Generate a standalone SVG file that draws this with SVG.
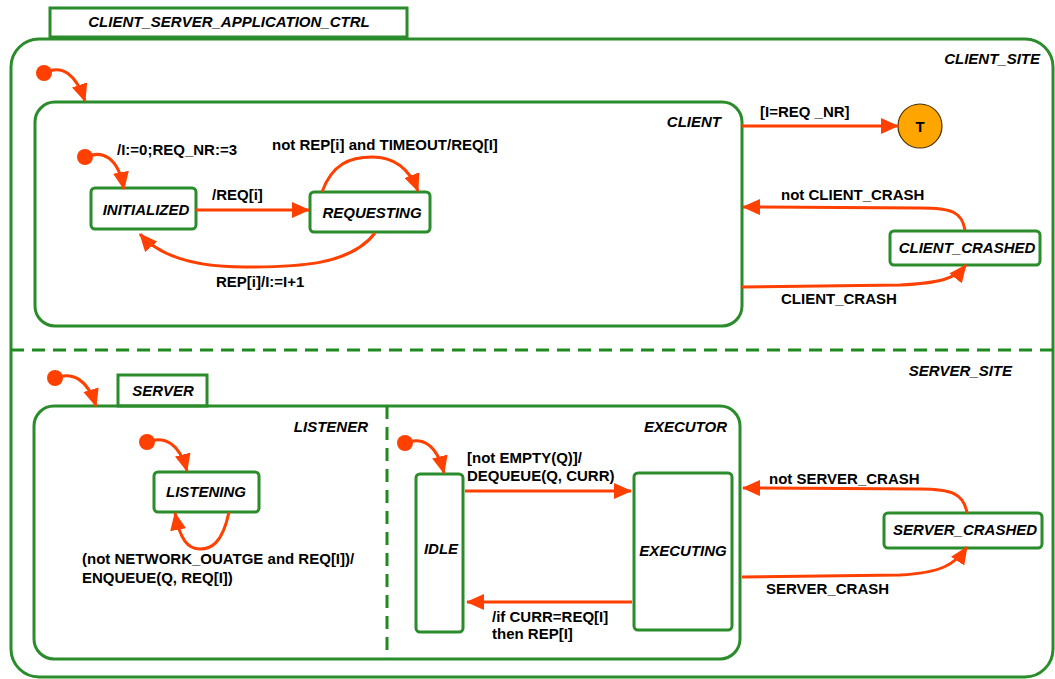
<svg xmlns="http://www.w3.org/2000/svg" width="1055" height="679" viewBox="0 0 1055 679">
  <style>
    .frame { fill: none; stroke: #2a8c2a; stroke-width: 3; }
    .box { fill: #ffffff; stroke: #2a8c2a; stroke-width: 3; }
    .dash { fill: none; stroke: #1f8a1f; stroke-width: 3; stroke-dasharray: 13 8; }
    .tr { fill: none; stroke: #ff4000; stroke-width: 3; marker-end: url(#ah); }
    .dot { fill: #ff4000; }
    text { font-family: "Liberation Sans", Arial, sans-serif; font-size: 15px; font-weight: bold; fill: #000000; }
    .nm { font-style: italic; }
    .mid { text-anchor: middle; }
    .end { text-anchor: end; }
  </style>
  <defs>
    <marker id="ah" viewBox="0 0 18 16" refX="17" refY="8" markerWidth="18" markerHeight="16" orient="auto" markerUnits="userSpaceOnUse">
      <path d="M0,0 L18,8 L0,16 z" fill="#ff4000"/>
    </marker>
  </defs>

  <!-- outer application state with its title tab -->
  <g id="app">
    <rect class="frame" x="11" y="39" width="1042" height="638" rx="28"/>
    <rect class="box" x="50" y="8" width="357" height="29"/>
    <text class="nm mid" x="229" y="27">CLIENT_SERVER_APPLICATION_CTRL</text>
    <line class="dash" x1="11" y1="350" x2="1055" y2="350"/>
    <text class="nm end" x="1040" y="64">CLIENT_SITE</text>
    <text class="nm end" x="1012" y="376">SERVER_SITE</text>
  </g>

  <!-- client site -->
  <g id="client">
    <rect class="frame" x="35" y="102" width="707" height="224" rx="20"/>
    <text class="nm end" x="721" y="127">CLIENT</text>
  </g>
  <g id="initialized">
    <rect class="box" x="91" y="188" width="105" height="41" rx="4"/>
    <text class="nm mid" x="146" y="215">INITIALIZED</text>
  </g>
  <g id="requesting">
    <rect class="box" x="310" y="192" width="120" height="40" rx="4"/>
    <text class="nm mid" x="372" y="218">REQUESTING</text>
  </g>
  <g id="terminal">
    <circle cx="920" cy="126" r="22" fill="#ffa500" stroke="#4a3000" stroke-width="1.2"/>
    <text class="mid" x="920" y="132">T</text>
  </g>
  <g id="client_crashed">
    <rect class="box" x="890" y="231" width="150" height="34" rx="4"/>
    <text class="nm mid" x="967" y="253">CLIENT_CRASHED</text>
  </g>

  <!-- server site -->
  <g id="server">
    <rect class="box" x="118" y="375" width="89" height="31"/>
    <text class="nm mid" x="163" y="396">SERVER</text>
    <rect class="frame" x="34" y="406" width="706" height="253" rx="20"/>
    <line class="dash" x1="387" y1="406" x2="387" y2="659"/>
    <text class="nm end" x="368" y="432">LISTENER</text>
    <text class="nm end" x="727" y="432">EXECUTOR</text>
  </g>
  <g id="listening">
    <rect class="box" x="154" y="472" width="105" height="40" rx="4"/>
    <text class="nm mid" x="206" y="497">LISTENING</text>
  </g>
  <g id="idle">
    <rect class="box" x="416" y="474" width="47" height="158" rx="4"/>
    <text class="nm mid" x="441" y="554">IDLE</text>
  </g>
  <g id="executing">
    <rect class="box" x="634" y="473" width="98" height="157" rx="4"/>
    <text class="nm mid" x="683" y="556">EXECUTING</text>
  </g>
  <g id="server_crashed">
    <rect class="box" x="884" y="513" width="158" height="35" rx="4"/>
    <text class="nm mid" x="965" y="535">SERVER_CRASHED</text>
  </g>

  <!-- transitions -->
  <g id="connectors">
    <circle class="dot" cx="44" cy="73" r="8"/>
    <path class="tr" d="M44,73 C62,64 76,74 85,101"/>

    <circle class="dot" cx="85" cy="157" r="8"/>
    <path class="tr" d="M85,157 C102,150 118,156 124,189"/>
    <text x="117" y="155">/I:=0;REQ_NR:=3</text>

    <path class="tr" d="M196,210 L309,210"/>
    <text x="212" y="200">/REQ[i]</text>

    <path class="tr" d="M322,192 C332,164 350,157 372,157 C395,157 410,170 418,191"/>
    <text x="272" y="150">not REP[i] and TIMEOUT/REQ[I]</text>

    <path class="tr" d="M375,233 C350,266 295,267 245,267 C195,267 160,257 140,234"/>
    <text x="216" y="287">REP[i]/I:=I+1</text>

    <path class="tr" d="M742,126 L898,126"/>
    <text x="760" y="117">[I=REQ _NR]</text>

    <path class="tr" d="M965,230 C962,212 952,208 920,208 L743,207"/>
    <text x="781" y="200">not CLIENT_CRASH</text>

    <path class="tr" d="M742,287 L900,285 C940,283 955,279 966,265"/>
    <text x="781" y="304">CLIENT_CRASH</text>

    <circle class="dot" cx="55" cy="378" r="8"/>
    <path class="tr" d="M55,378 C73,371 88,380 96,406"/>

    <circle class="dot" cx="147" cy="442" r="8"/>
    <path class="tr" d="M147,442 C165,435 180,444 187,471"/>

    <path class="tr" d="M229,512 C222,545 210,549 200,549 C188,549 180,540 175,513"/>
    <text x="82" y="564">(not NETWORK_OUATGE and REQ[I])/</text>
    <text x="82" y="583">ENQUEUE(Q, REQ[I])</text>

    <circle class="dot" cx="405" cy="443" r="8"/>
    <path class="tr" d="M405,443 C423,436 437,445 444,473"/>

    <path class="tr" d="M465,491 L631,491"/>
    <text x="467" y="463">[not EMPTY(Q)]/</text>
    <text x="467" y="481">DEQUEUE(Q, CURR)</text>

    <path class="tr" d="M632,602 L467,602"/>
    <text x="492" y="622">/if CURR=REQ[I]</text>
    <text x="492" y="639">then REP[I]</text>

    <path class="tr" d="M967,513 C964,494 952,489 920,489 L743,488"/>
    <text x="769" y="484">not SERVER_CRASH</text>

    <path class="tr" d="M742,577 L900,575 C940,573 955,565 967,547"/>
    <text x="766" y="594">SERVER_CRASH</text>
  </g>
</svg>
